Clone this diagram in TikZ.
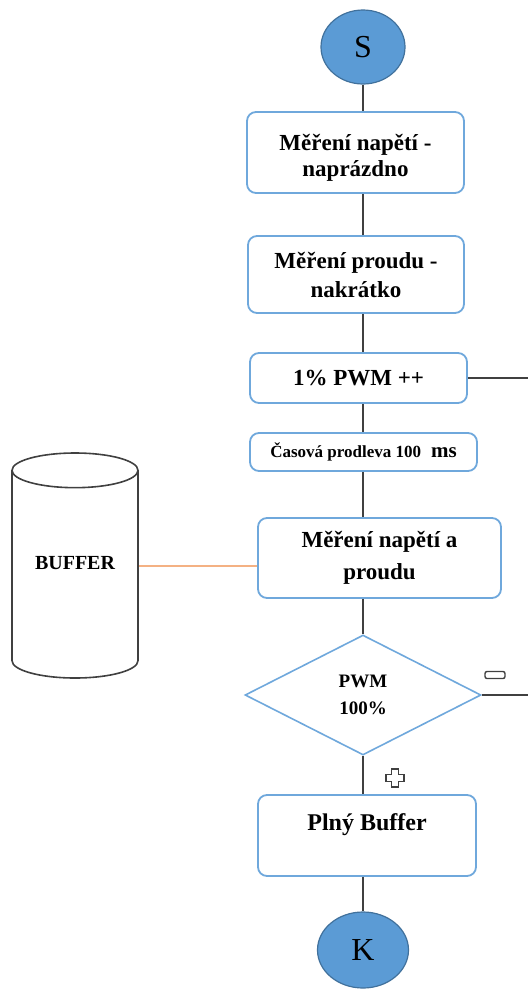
\documentclass[tikz,border=0pt]{standalone}
\usepackage{fontspec}
\setmainfont{Liberation Serif}
\usepackage{tikz}
\usetikzlibrary{shapes.geometric}
\definecolor{boxblue}{RGB}{111,168,220}
\definecolor{circblue}{RGB}{91,155,213}
\definecolor{circedge}{RGB}{65,113,156}
\definecolor{linegray}{RGB}{64,64,64}
\definecolor{bufline}{RGB}{244,177,131}

\begin{document}
\begin{tikzpicture}[x=1pt, y=-1pt,
        box/.style={rectangle, rounded corners=9pt, draw=boxblue, line width=1.8pt, fill=white, align=center, font=\bfseries\fontsize{23}{29}\selectfont, inner sep=2pt},
        term/.style={ellipse, draw=circedge, line width=1.2pt, fill=circblue, font=\fontsize{32}{34}\selectfont, inner sep=0pt},
        link/.style={linegray, line width=2pt}]

        \useasboundingbox (0,0) rectangle (528,989);

        % Start
        \node[term, minimum width=84pt, minimum height=74pt] (start) at (363,47) {S};

        % Measurements
        \node[box, minimum width=217pt, minimum height=81pt, font=\bfseries\fontsize{23}{26}\selectfont] (naprazdno) at (355.5,152.5) {\mbox{}\\[1pt] Měření napětí -\\ naprázdno};
        \node[box, minimum width=216pt, minimum height=77pt] (nakratko) at (356,274.5) {Měření proudu -\\ nakrátko};

        % PWM step
        \node[box, minimum width=217pt, minimum height=50pt] (pwmstep) at (358.5,378) {1\% PWM ++};
        \node[box, minimum width=227pt, minimum height=38pt, font=\bfseries\fontsize{17}{19}\selectfont] (delay) at (363.5,452) {Časová prodleva 100\hspace{10pt}{\fontsize{21}{21}\selectfont ms}};
        \node[box, minimum width=243pt, minimum height=80pt, font=\bfseries\fontsize{23}{32}\selectfont] (mereni) at (379.5,558) {Měření napětí a\\ proudu};

        % Buffer
        \node[cylinder, shape border rotate=90, aspect=0.4, draw=linegray, line width=1.6pt, minimum width=126pt, minimum height=225pt, anchor=shape center, text height=13.2pt, text depth=28pt, font=\bfseries\fontsize{20}{22}\selectfont] (buffer) at (75,565.5) {BUFFER};

        % Decision
        \node[diamond, draw=boxblue, line width=1.6pt, minimum width=236pt, minimum height=120pt, inner sep=0pt, align=center, font=\bfseries\fontsize{19}{27}\selectfont] (decision) at (363,695) {PWM\\ 100\%};

        % Full buffer
        \node[box, minimum width=218pt, minimum height=81pt, font=\bfseries\fontsize{24}{26}\selectfont] (full) at (367,835.5) {Plný Buffer\\ \mbox{}};

        % End
        \node[term, minimum width=91pt, minimum height=76pt] (end) at (363,950) {K};

        % Loop back (right edge)
        \coordinate (pwmout) at (528,378);
        \coordinate (decout) at (528,695);

        % Signs
        \node[rectangle, rounded corners=2pt, draw=linegray, line width=1.4pt, minimum width=20pt, minimum height=7pt, inner sep=0pt] (minus) at (495,675) {};
        \draw[linegray, line width=1.4pt] (391.5,769) -- (398.5,769) -- (398.5,774.5) -- (404,774.5) -- (404,781.5) -- (398.5,781.5) -- (398.5,787) -- (391.5,787) -- (391.5,781.5) -- (386,781.5) -- (386,774.5) -- (391.5,774.5) -- cycle;

        % Lines
        \draw[link] (start.south) -- (start.south |- naprazdno.north);
        \draw[link] (start.south |- naprazdno.south) -- (start.south |- nakratko.north);
        \draw[link] (start.south |- nakratko.south) -- (start.south |- pwmstep.north);
        \draw[link] (start.south |- pwmstep.south) -- (start.south |- delay.north);
        \draw[link] (start.south |- delay.south) -- (start.south |- mereni.north);
        \draw[link] (start.south |- mereni.south) -- (start.south |- decision.north);
        \draw[link] (start.south |- decision.south) -- (start.south |- full.north);
        \draw[link] (end.north |- full.south) -- (end.north);
        \draw[link] (pwmstep.east) -- (pwmout);
        \draw[link] (decision.east) -- (decout);
        \draw[bufline, line width=2pt] (buffer.east |- buffer.shape center) -- (buffer.shape center -| mereni.west);

    \end{tikzpicture}
\end{document}
